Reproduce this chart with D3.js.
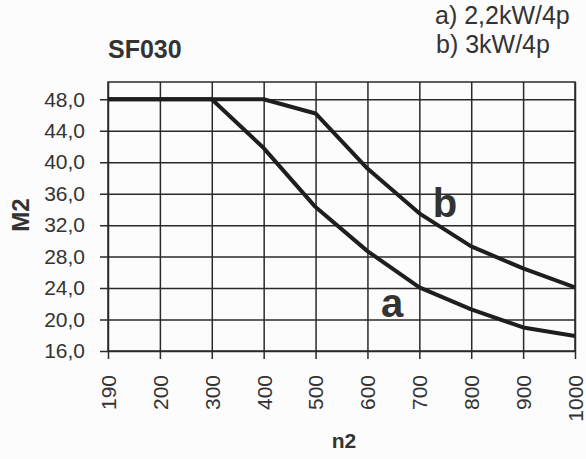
<!DOCTYPE html>
<html>
<head>
<meta charset="utf-8">
<script src="https://cdn.jsdelivr.net/npm/d3@7"></script>
<style>
  body { margin: 0; background: #fcfcfc; }
  text { font-family: "Liberation Sans", Arial, sans-serif; fill: #333; }
</style>
</head>
<body>
<svg width="586" height="459"></svg>
<script>
const speeds = ['190', '200', '300', '400', '500', '600', '700', '800', '900', '1000'];
const yTicks = [16, 20, 24, 28, 32, 36, 40, 44, 48];
const seriesA = [48, 48, 48, 41.8, 34.3, 28.7, 24.1, 21.3, 19.0, 17.9];
const seriesB = [48, 48, 48, 48, 46.2, 39.2, 33.5, 29.3, 26.5, 24.1];

const margin = {top: 82, right: 11, bottom: 108, left: 108},
    width = 586 - margin.left - margin.right,
    height = 459 - margin.top - margin.bottom;

const svg = d3.select('svg');
const g = svg.append('g')
    .attr('transform', `translate(${margin.left},${margin.top})`);

const xScale = d3.scalePoint()
    .domain(speeds)
    .range([0, width]);

const yScale = d3.scaleLinear()
    .domain([16, 50.2])
    .range([height, 0]);

// frame
g.append('rect')
    .attr('width', width)
    .attr('height', height)
    .attr('fill', 'none')
    .attr('stroke', '#2a2a2a')
    .attr('stroke-width', 1.5);

const xAxis = d3.axisBottom(xScale)
    .tickSize(-(height + 8))
    .tickPadding(0);

const yAxis = d3.axisLeft(yScale)
    .tickValues(yTicks)
    .tickSize(-(width + 8))
    .tickFormat(d => d3.format('.1f')(d).replace('.', ','));

const yAxisG = g.append('g')
    .attr('transform', 'translate(-8,0)')
    .call(yAxis);
yAxisG.select('.domain').remove();
yAxisG.selectAll('line').attr('stroke', '#2a2a2a').attr('stroke-width', 1.5);
yAxisG.selectAll('text')
    .attr('x', -15)
    .style('font-size', '21px')
    .attr('fill', '#3a3a3a');

const xAxisG = g.append('g')
    .attr('transform', `translate(0,${height + 8})`)
    .call(xAxis);
xAxisG.select('.domain').remove();
xAxisG.selectAll('line').attr('stroke', '#2a2a2a').attr('stroke-width', 1.5);
xAxisG.selectAll('text')
    .attr('transform', 'rotate(-90)')
    .attr('x', -16)
    .attr('y', 0)
    .attr('dy', '0.35em')
    .style('text-anchor', 'end')
    .style('font-size', '21px')
    .attr('fill', '#3a3a3a');

// curves
const line = d3.line()
    .x((d, i) => xScale(speeds[i]))
    .y(d => yScale(d));

[seriesA, seriesB].forEach(s => {
    g.append('path')
        .datum(s)
        .attr('d', line)
        .attr('fill', 'none')
        .attr('stroke', '#1e1e1e')
        .attr('stroke-width', 4)
        .attr('stroke-linejoin', 'round');
});

// curve letters
g.append('text')
    .attr('x', 392 - margin.left)
    .attr('y', 317 - margin.top)
    .style('text-anchor', 'middle')
    .style('font-size', '40px')
    .style('font-weight', 'bold')
    .attr('fill', '#222')
    .text('a');

g.append('text')
    .attr('x', 445 - margin.left)
    .attr('y', 217 - margin.top)
    .style('text-anchor', 'middle')
    .style('font-size', '40px')
    .style('font-weight', 'bold')
    .attr('fill', '#222')
    .text('b');

// titles
svg.append('text')
    .attr('x', 108)
    .attr('y', 58)
    .style('font-size', '25px')
    .style('font-weight', 'bold')
    .attr('fill', '#3a3a3a')
    .text('SF030');

svg.append('text')
    .attr('x', 435)
    .attr('y', 24)
    .style('font-size', '25px')
    .attr('fill', '#3a3a3a')
    .text('a) 2,2kW/4p');

svg.append('text')
    .attr('x', 436)
    .attr('y', 53)
    .style('font-size', '25px')
    .attr('fill', '#3a3a3a')
    .text('b) 3kW/4p');

svg.append('text')
    .attr('transform', 'translate(29,215) rotate(-90)')
    .style('text-anchor', 'middle')
    .style('font-size', '24px')
    .style('font-weight', 'bold')
    .attr('fill', '#333')
    .text('M2');

svg.append('text')
    .attr('x', 344)
    .attr('y', 448)
    .style('text-anchor', 'middle')
    .style('font-size', '21px')
    .style('font-weight', 'bold')
    .attr('fill', '#333')
    .text('n2');
</script>
</body>
</html>
